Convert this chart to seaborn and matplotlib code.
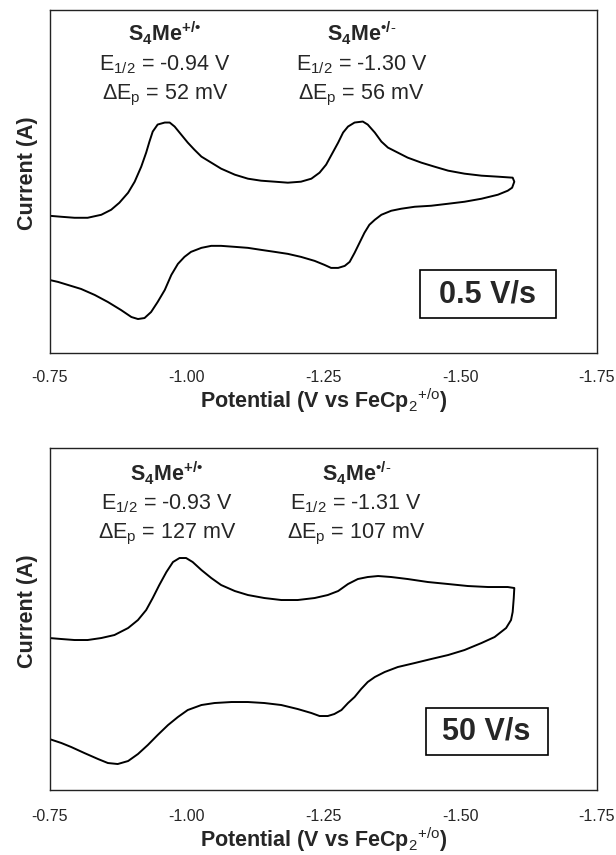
import pandas as pd
import seaborn as sns
import matplotlib.pyplot as plt
from matplotlib.patches import Rectangle
from matplotlib.ticker import FixedLocator

sns.set_theme(style="white")
plt.rcParams['font.family'] = ['Liberation Sans', 'DejaVu Sans']
plt.rcParams['mathtext.fontset'] = 'custom'
plt.rcParams['mathtext.rm'] = 'Liberation Sans'
plt.rcParams['mathtext.bf'] = 'Liberation Sans:bold'

# potential axis ticks (V vs FeCp2+/o), axis runs from -0.75 to -1.75
xticks = [-0.75, -1.00, -1.25, -1.50, -1.75]
xticklabels = ['-0.75', '-1.00', '-1.25', '-1.50', '-1.75']

# 0.5 V/s scan (current in arbitrary units)
e_slow = [-0.749, -0.771, -0.795, -0.819, -0.844, -0.862, -0.877, -0.893, -0.905, -0.917,
          -0.926, -0.932, -0.938, -0.947, -0.960, -0.969, -0.978, -0.990, -1.002, -1.014,
          -1.027, -1.045, -1.063, -1.088, -1.112, -1.136, -1.161, -1.185, -1.209, -1.228,
          -1.243, -1.255, -1.267, -1.277, -1.286, -1.295, -1.307, -1.322, -1.331, -1.344,
          -1.356, -1.368, -1.386, -1.404, -1.429, -1.453, -1.478, -1.508, -1.539, -1.569,
          -1.596, -1.599, -1.595, -1.587,
          -1.569, -1.539, -1.508, -1.478, -1.447, -1.417, -1.392, -1.374, -1.356, -1.344,
          -1.334, -1.325, -1.316, -1.307, -1.298, -1.289, -1.277, -1.264, -1.252, -1.234,
          -1.209, -1.185, -1.161, -1.136, -1.112, -1.088, -1.063, -1.045, -1.027, -1.008,
          -0.996, -0.984, -0.972, -0.960, -0.947, -0.935, -0.923, -0.911, -0.899, -0.880,
          -0.856, -0.832, -0.807, -0.783, -0.765, -0.749]
i_slow = [13.7, 13.6, 13.5, 13.5, 13.8, 14.3, 15.0, 16.0, 17.1, 18.6,
          20.0, 21.1, 22.1, 22.8, 23.0, 23.0, 22.6, 21.8, 21.0, 20.3,
          19.6, 19.0, 18.4, 17.8, 17.4, 17.2, 17.1, 17.0, 17.1, 17.4,
          18.0, 18.8, 20.0, 21.0, 22.0, 22.6, 23.0, 23.1, 22.8, 22.0,
          21.1, 20.5, 20.0, 19.5, 19.0, 18.6, 18.2, 17.9, 17.7, 17.6,
          17.5, 17.1, 16.5, 16.2,
          15.8, 15.4, 15.1, 14.9, 14.7, 14.6, 14.4, 14.2, 13.8, 13.3,
          12.8, 12.0, 11.0, 10.0, 9.1, 8.7, 8.5, 8.5, 8.8, 9.2,
          9.6, 9.9, 10.1, 10.3, 10.5, 10.6, 10.7, 10.7, 10.5, 10.1,
          9.6, 8.9, 7.8, 6.3, 5.1, 4.1, 3.5, 3.4, 3.6, 4.3,
          5.1, 5.8, 6.4, 6.8, 7.1, 7.3]

# 50 V/s scan
e_fast = [-0.749, -0.771, -0.795, -0.819, -0.844, -0.868, -0.893, -0.911, -0.926, -0.938,
          -0.950, -0.963, -0.975, -0.987, -0.999, -1.011, -1.027, -1.045, -1.063, -1.088,
          -1.112, -1.142, -1.173, -1.203, -1.234, -1.258, -1.277, -1.295, -1.313, -1.331,
          -1.350, -1.374, -1.404, -1.441, -1.478, -1.514, -1.551, -1.587, -1.599, -1.598,
          -1.596, -1.593, -1.584,
          -1.563, -1.539, -1.508, -1.478, -1.447, -1.417, -1.386, -1.362, -1.344, -1.331,
          -1.319, -1.307, -1.295, -1.283, -1.270, -1.258, -1.243, -1.228, -1.203, -1.173,
          -1.142, -1.112, -1.082, -1.051, -1.027, -1.002, -0.984, -0.966, -0.947, -0.929,
          -0.911, -0.893, -0.874, -0.856, -0.838, -0.813, -0.789, -0.771, -0.749]
i_fast = [15.2, 15.1, 15.0, 15.0, 15.2, 15.5, 16.2, 17.0, 18.0, 19.2,
          20.5, 21.8, 22.8, 23.2, 23.2, 22.8, 22.0, 21.2, 20.5, 19.9,
          19.5, 19.2, 19.0, 19.0, 19.2, 19.5, 19.9, 20.6, 21.1, 21.3,
          21.4, 21.3, 21.1, 20.8, 20.6, 20.4, 20.3, 20.3, 20.2, 19.2,
          17.8, 17.0, 16.2,
          15.3, 14.7, 14.0, 13.5, 13.1, 12.7, 12.3, 11.8, 11.3, 10.8,
          10.1, 9.3, 8.7, 8.0, 7.6, 7.4, 7.4, 7.7, 8.1, 8.5,
          8.7, 8.8, 8.8, 8.7, 8.5, 8.0, 7.3, 6.5, 5.5, 4.5,
          3.6, 2.9, 2.6, 2.7, 3.1, 3.7, 4.3, 4.7, 5.1]

ox = '$\\mathbf{S_4Me^{+/•}}$'
red = '$\\mathbf{S_4Me^{•/\\text{-}}}$'

panels = [
    dict(e=e_slow, i=i_slow, rate='0.5 V/s', box=(0.676, 0.102, 0.249, 0.140),
         labels=[(ox, '$\\mathrm{E_{1/2}}$ = -0.94 V', '$\\Delta\\mathrm{E_p}$ = 52 mV'),
                 (red, '$\\mathrm{E_{1/2}}$ = -1.30 V', '$\\Delta\\mathrm{E_p}$ = 56 mV')],
         xs=[-0.960, -1.320], ys=[31.9, 28.8, 25.7], ticks=False),
    dict(e=e_fast, i=i_fast, rate='50 V/s', box=(0.687, 0.102, 0.223, 0.138),
         labels=[(ox, '$\\mathrm{E_{1/2}}$ = -0.93 V', '$\\Delta\\mathrm{E_p}$ = 127 mV'),
                 (red, '$\\mathrm{E_{1/2}}$ = -1.31 V', '$\\Delta\\mathrm{E_p}$ = 107 mV')],
         xs=[-0.964, -1.310], ys=[31.7, 28.6, 25.6], ticks=True),
]

fig = plt.figure(figsize=(6.16, 8.55), dpi=100)
rects = [[0.081, 0.587, 0.888, 0.401], [0.081, 0.076, 0.888, 0.400]]

for rect, p in zip(rects, panels):
    ax = fig.add_axes(rect)
    df = pd.DataFrame({'E': p['e'], 'I': p['i']})
    sns.lineplot(data=df, x='E', y='I', sort=False, estimator=None,
                 color='black', lw=1.4, ax=ax)
    ax.set_xlim(-0.75, -1.75)
    ax.set_ylim(0, 34.2)
    ax.xaxis.set_major_locator(FixedLocator(xticks))
    ax.set_xticklabels(xticklabels, fontsize=11.5)
    ax.set_yticks([])
    if p['ticks']:
        ax.tick_params(axis='x', direction='in', length=3, width=0.8, pad=14, color='#555555')
    else:
        ax.tick_params(axis='x', length=0, pad=12)
    for s in ax.spines.values():
        s.set_color('#222222')
        s.set_linewidth(1.0)
    ax.set_xlabel('Potential (V vs FeCp$_2$$^{+/\\mathrm{o}}$)', fontsize=15.5,
                  fontweight='bold', labelpad=1)
    ax.set_ylabel('Current (A)', fontsize=15.5, fontweight='bold')
    ax.yaxis.set_label_coords(-0.022, 0.524)

    for x0, lines in zip(p['xs'], p['labels']):
        for y0, txt in zip(p['ys'], lines):
            ax.text(x0, y0, txt, ha='center', va='center', fontsize=15.5)

    bx, by, bw, bh = p['box']
    ax.add_patch(Rectangle((bx, by), bw, bh, transform=ax.transAxes,
                           fc='white', ec='black', lw=1.2, zorder=3))
    ax.text(bx + bw / 2, by + bh / 2, p['rate'], transform=ax.transAxes,
            ha='center', va='center', fontsize=22, fontweight='bold', zorder=4)

fig.savefig('out.png', dpi=100)
